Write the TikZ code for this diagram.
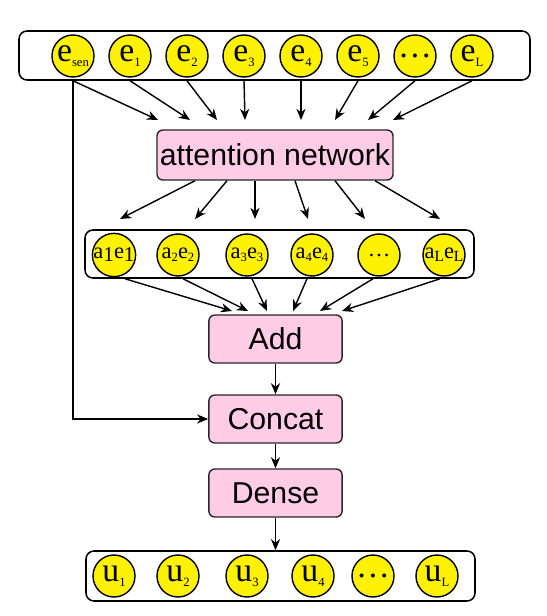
\documentclass[tikz,border=0pt]{standalone}
\usepackage{fontspec}
\setmainfont{Liberation Serif}
\setsansfont{Liberation Sans}
\usetikzlibrary{arrows.meta,fit}
\definecolor{layerpink}{RGB}{255,204,230}
\newcommand{\lowsub}[2][9]{\raisebox{-0.3ex}{\fontsize{#1}{#1}\selectfont #2}}

\begin{document}
\begin{tikzpicture}[x=0.025cm, y=-0.025cm,
    unit/.style={circle, draw=black, fill=yellow, line width=1pt, minimum size=1.05cm, inner sep=0pt, font=\fontsize{24}{24}\selectfont},
    wunit/.style={unit, font=\fontsize{16}{16}\selectfont},
    rowbox/.style={draw=black, fill=white, rounded corners=0.2cm, line width=1.1pt, inner sep=0pt},
    layer/.style={draw=black!85, fill=layerpink, rounded corners=0.15cm, line width=1pt, minimum width=3.33cm, minimum height=1.2cm, inner sep=0pt, font=\sffamily\fontsize{21.5}{21.5}\selectfont},
    arr/.style={-{Stealth[length=2.8mm, width=2.3mm]}, line width=1pt}]
    \useasboundingbox (0,0) rectangle (546,616);

    % Embedding row
    \node[rowbox, fit={(19,31) (530,80)}] (top) {};
    \foreach \name/\txt [count=\i from 0] in {esen/e\lowsub{sen}, e1/e\lowsub{1}, e2/e\lowsub{2}, e3/e\lowsub{3}, e4/e\lowsub{4}, e5/e\lowsub{5}, edots/\dots, eL/e\lowsub{L}}
        \node[unit] (\name) at (73+57*\i, 56) {\txt};

    % Layers
    \node[layer, minimum width=5.9cm, minimum height=1.25cm] (att) at (275,155) {attention network};
    \node[layer] (add) at (275.5,339) {Add};
    \node[layer] (concat) at (275.5,419) {Concat};
    \node[layer] (dense) at (275.5,493) {Dense};

    % Weighted row
    \node[rowbox, fit={(85,230) (474,278)}] (mid) {};
    \foreach \name/\x/\txt in {ae1/114/a\lowsub[15]{1}e\lowsub[15]{1}, ae2/178/a\lowsub{2}e\lowsub{2}, ae3/247/a\lowsub{3}e\lowsub{3}, ae4/312/a\lowsub{4}e\lowsub{4}, aedots/379/\ldots, aeL/444/a\lowsub[11]{L}e\lowsub[11]{L}}
        \node[wunit] (\name) at (\x, 255) {\txt};

    % Output row
    \node[rowbox, fit={(86,551) (475,601)}] (bot) {};
    \foreach \name/\x/\txt in {u1/114/u\lowsub{1}, u2/178/u\lowsub{2}, u3/247/u\lowsub{3}, u4/313/u\lowsub{4}, udots/373/\dots, uL/437/u\lowsub{L}}
        \node[unit] (\name) at (\x, 576) {\txt};

    % Into the attention network
    \foreach \src/\tx in {esen/158, e1/190, e2/217, e3/245, e4/301, e5/335, edots/368, eL/393} {
        \coordinate (\src-in) at (\tx,120);
        \draw[arr] (\src |- top.south) -- (\src-in);
    }

    % Attention weights
    \foreach \dst/\sx/\ex in {ae1/195/120, ae2/227/195, ae3/255/255, ae4/295/308, aedots/335/365, aeL/375/440} {
        \coordinate (\dst-in) at (\ex,219);
        \draw[arr] (\sx,0 |- att.south) -- (\dst-in);
    }

    % Into Add
    \foreach \src/\sx/\ex in {ae1/125/232, ae2/183/248, ae3/252/267, ae4/307/293, aedots/373/320, aeL/440/342} {
        \coordinate (\src-out) at (\ex,311);
        \draw[arr] (\sx,0 |- mid.south) -- (\src-out);
    }

    \draw[arr] (add) -- (concat);
    \draw[arr] (concat) -- (dense);
    \draw[arr] (dense) -- (dense |- bot.north);
    \draw[arr] (esen |- top.south) |- (concat.west);
\end{tikzpicture}
\end{document}
